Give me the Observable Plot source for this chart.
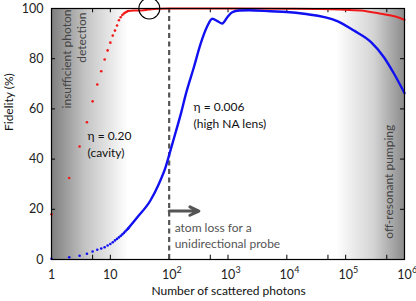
<!DOCTYPE html>
<html>
<head>
<meta charset="utf-8">
<script src="https://cdn.jsdelivr.net/npm/d3@7"></script>
<script src="https://cdn.jsdelivr.net/npm/@observablehq/plot@0.6"></script>
<style>
  body { margin: 0; background: #fff; }
</style>
</head>
<body>
<div id="chart"></div>
<script>
// ---- data ----
const dotN = [1,2,3,4,5,6,7,8,9,10,11,12,13,14,15,16,17,18,19,20];
const redDotF = [18,32.5,45,54.7,63,69.7,75,79.7,83.3,86.4,89.2,91.2,93.2,95.3,96.5,97.4,98,98.4,98.7,99];
const blueDotF = [0.3,0.9,1.5,2.3,3.2,3.9,4.4,4.9,5.6,6.2,6.9,7.6,8.2,8.8,9.4,10,10.6,11.2,11.8,12.3];

const redLineN = [20,25,30,40,50,70,100,1000,10000,30000,80000,180000,400000,700000,1000000];
const redLineF = [99,99.2,99.2,99.4,99.7,99.9,100,100,99.9,99.8,99.6,99.2,97.9,96.8,95.5];

const blueLineN = [20,29,48,67,87,105,130,160,190,263,342,446,540,660,800,975,1180,1540,2270,5300,10000,19500,72000,138000,270000,447000,665000,1000000];
const blueLineF = [12.3,16.9,23.5,30.2,36.8,43.4,51,58.5,65.5,76.6,85.9,93,95.9,95,94,96.5,98.5,99.2,99.3,98.9,98.6,97.9,95,91.2,86.6,80.6,74,66.3];

const xTicks = [1,10,100,1000,10000,100000,1000000];
const xTickBase = ["1","10","10","10","10","10","10"];
const xTickExp = ["","","2","3","4","5","6"];
const xMinorTicks = [5,500,50000,500000];
const yTicks = [0,20,40,60,80,100];

const limitN = [100];         // dashed line: atom loss limit
const circleN = [46];         // circled optimum on the red curve
const circleF = [100];
const arrowFrom = [100], arrowTo = [320], arrowF = [19.3];

// ---- build tables ----
const dots = dotN.map((n,i) => ({n, red: redDotF[i], blue: blueDotF[i]}));
const redLine = redLineN.map((n,i) => ({n, f: redLineF[i]}));
const blueLine = blueLineN.map((n,i) => ({n, f: blueLineF[i]}));
const baseOf = new Map(xTicks.map((t,i) => [t, xTickBase[i]]));
const expTicks = xTicks.map((t,i) => ({t, e: xTickExp[i]})).filter(d => d.e);

const font = "Lato, 'Open Sans', sans-serif";
const fs = 12;
const tickLen = 1.7; // in y units (~4px)
const xTickFactor = 1.17; // ~4px in log x

const chart = Plot.plot({
  width: 416,
  height: 301,
  marginLeft: 51,
  marginRight: 12,
  marginTop: 8,
  marginBottom: 42,
  style: {fontFamily: font, fontSize: fs + "px", color: "#222", background: "#fff"},
  x: {type: "log", domain: [1, 1e6]},
  y: {domain: [0, 100]},
  marks: [
    // shaded regions
    Plot.rect([{x1: 1, x2: 20}], {x1: "x1", x2: "x2", y1: 0, y2: 100, fill: "url(#gl)"}),
    Plot.rect([{x1: 70000, x2: 1e6}], {x1: "x1", x2: "x2", y1: 0, y2: 100, fill: "url(#gr)"}),
    // axes labels
    Plot.axisX({ticks: xTicks, tickSize: 0, tickPadding: 11, tickFormat: d => baseOf.get(d), label: null, fontSize: fs + 0.5}),
    Plot.text(expTicks, {x: "t", text: "e", frameAnchor: "bottom", dx: 10, dy: 13, fontSize: 9, textAnchor: "middle"}),
    Plot.axisY({ticks: yTicks, tickSize: 0, tickPadding: 8, label: null, fontSize: fs + 0.5}),
    // inward ticks
    Plot.ruleX(xTicks.concat(xMinorTicks), {x: d => d, y1: 0, y2: tickLen, stroke: "black"}),
    Plot.ruleX(xTicks.concat(xMinorTicks), {x: d => d, y1: 100, y2: 100 - tickLen, stroke: "black"}),
    Plot.ruleY(yTicks, {y: d => d, x1: 1, x2: xTickFactor, stroke: "black"}),
    Plot.ruleY(yTicks, {y: d => d, x1: 1e6, x2: 1e6 / xTickFactor, stroke: "black"}),
    // dashed limit line
    Plot.ruleX(limitN, {x: d => d, y1: 0, y2: 100, stroke: "#555", strokeWidth: 2.2, strokeDasharray: "5,3.5"}),
    // series
    Plot.line(redLine, {x: "n", y: "f", stroke: "#f01818", strokeWidth: 2, curve: "monotone-x"}),
    Plot.dot(dots, {x: "n", y: "red", r: 1.3, fill: "#f01818"}),
    Plot.line(blueLine, {x: "n", y: "f", stroke: "#1010f0", strokeWidth: 2.4, curve: "monotone-x"}),
    Plot.dot(dots, {x: "n", y: "blue", r: 1.3, fill: "#1010f0"}),
    // circle
    Plot.dot(circleN.map((n,i) => ({n, f: circleF[i]})), {x: "n", y: "f", r: 10.5, stroke: "black", strokeWidth: 1.1, fill: "none"}),
    // arrow
    Plot.arrow(arrowFrom.map((a,i) => ({a, b: arrowTo[i], f: arrowF[i]})), {x1: "a", x2: "b", y1: "f", y2: "f", stroke: "#555", strokeWidth: 3, headLength: 9, headAngle: 50}),
    // frame
    Plot.frame({stroke: "black", strokeWidth: 1.2}),
    // annotations
    Plot.text(["η = 0.20"], {x: 4.1, y: 49.2, text: d => d, textAnchor: "start", fontSize: fs, fill: "#111"}),
    Plot.text(["(cavity)"], {x: 4.1, y: 42.2, text: d => d, textAnchor: "start", fontSize: fs, fill: "#111"}),
    Plot.text(["η = 0.006"], {x: 260, y: 60.6, text: d => d, textAnchor: "start", fontSize: fs, fill: "#111"}),
    Plot.text(["(high NA lens)"], {x: 260, y: 53.8, text: d => d, textAnchor: "start", fontSize: fs, fill: "#111"}),
    Plot.text(["atom loss for a"], {x: 124, y: 12.5, text: d => d, textAnchor: "start", fontSize: fs, fill: "#555"}),
    Plot.text(["unidirectional probe"], {x: 124, y: 6, text: d => d, textAnchor: "start", fontSize: fs, fill: "#555"}),
    Plot.text(["insufficient photon"], {x: 1.85, y: 99.6, text: d => d, rotate: -90, textAnchor: "end", fontSize: fs, fill: "#444"}),
    Plot.text(["detection"], {x: 3.37, y: 98.4, text: d => d, rotate: -90, textAnchor: "end", fontSize: fs, fill: "#444"}),
    Plot.text(["off-resonant pumping"], {x: 540000, y: 31, text: d => d, rotate: -90, textAnchor: "middle", fontSize: fs, fill: "#444"}),
    // axis titles
    Plot.text(["Fidelity (%)"], {frameAnchor: "left", dx: -42, dy: -3, rotate: -90, text: d => d, fontSize: fs, fill: "#111"}),
    Plot.text(["Number of scattered photons"], {x: 1023, frameAnchor: "bottom", dy: 35, text: d => d, fontSize: fs, fill: "#111"})
  ]
});

// gradients
const ns = "http://www.w3.org/2000/svg";
const defs = document.createElementNS(ns, "defs");
function grad(id, stops) {
  const g = document.createElementNS(ns, "linearGradient");
  g.setAttribute("id", id);
  g.setAttribute("x1", "0"); g.setAttribute("x2", "1");
  g.setAttribute("y1", "0"); g.setAttribute("y2", "0");
  for (const [o, c] of stops) {
    const s = document.createElementNS(ns, "stop");
    s.setAttribute("offset", o);
    s.setAttribute("stop-color", c);
    g.appendChild(s);
  }
  defs.appendChild(g);
}
grad("gl", [[0, "#7e7e7e"], [0.45, "#c4c4c4"], [1, "#ffffff"]]);
grad("gr", [[0, "#ffffff"], [0.55, "#d4d4d4"], [1, "#8c8c8c"]]);
chart.insertBefore(defs, chart.firstChild);

document.getElementById("chart").appendChild(chart);
</script>
</body>
</html>
